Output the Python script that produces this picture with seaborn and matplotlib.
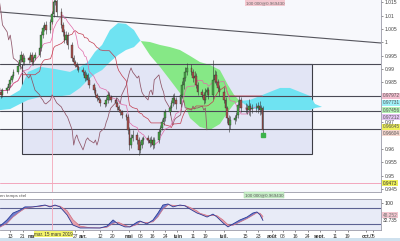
import numpy as np
import pandas as pd
import matplotlib
matplotlib.use("Agg")
import matplotlib.pyplot as plt
import matplotlib.transforms as mtransforms
from matplotlib.patches import Rectangle
import seaborn as sns

# ---------------- data ----------------
# daily candles (trading days 2019-02-05 .. 2019-07-26)
first_open = 0.9840
close = [0.9829, 0.9814, 0.9803, 0.9821,
         0.9829, 0.9844, 0.9859, 0.9874, 0.9889,
         0.9911, 0.9934, 0.9952, 0.9926, 0.9941,
         0.9934, 0.9952, 0.9926, 0.9941, 0.9952,
         0.9979, 1.0027, 1.0054, 1.0065, 1.0046,
         1.0076, 1.0106, 1.0151, 1.0155, 1.0114,
         1.0065, 1.0039, 1.0009, 1.0027, 0.9990,
         0.9941, 0.9926, 0.9915, 0.9908, 0.9896,
         0.9889, 0.9866, 0.9878, 0.9859, 0.9840,
         0.9821, 0.9803, 0.9791, 0.9784, 0.9773,
         0.9769, 0.9784, 0.9803, 0.9795, 0.9784,
         0.9773, 0.9758, 0.9746, 0.9739, 0.9728,
         0.9720, 0.9672, 0.9615, 0.9642, 0.9653,
         0.9634, 0.9597, 0.9615, 0.9634, 0.9642,
         0.9634, 0.9623, 0.9634, 0.9615, 0.9634,
         0.9664, 0.9679, 0.9701, 0.9716, 0.9739,
         0.9754, 0.9773, 0.9791, 0.9784, 0.9769,
         0.9803, 0.9840, 0.9866, 0.9889, 0.9904,
         0.9889, 0.9866, 0.9874, 0.9840, 0.9814,
         0.9803, 0.9784, 0.9814, 0.9821, 0.9803,
         0.9859, 0.9878, 0.9851, 0.9829, 0.9814,
         0.9784, 0.9754, 0.9716, 0.9690, 0.9709,
         0.9716, 0.9728, 0.9765, 0.9784, 0.9754,
         0.9754, 0.9746, 0.9761, 0.9750, 0.9754,
         0.9754, 0.9761, 0.9746, 0.9754, 0.9672]
upper_wick_pips = [8, 6, 10, 8,
                   6, 8, 10, 8, 12,
                   10, 8, 14, 8, 10,
                   8, 10, 12, 8, 10,
                   12, 15, 10, 12, 14,
                   10, 12, 15, 25, 12,
                   14, 10, 12, 16, 10,
                   10, 12, 8, 10, 8,
                   10, 8, 12, 8, 10,
                   8, 10, 8, 6, 8,
                   8, 12, 15, 10, 8,
                   10, 8, 8, 6, 8,
                   8, 10, 12, 15, 20,
                   10, 12, 15, 10, 8,
                   12, 10, 15, 10, 12,
                   10, 12, 10, 15, 10,
                   12, 10, 15, 20, 10,
                   12, 15, 18, 20, 19,
                   15, 12, 20, 10, 12,
                   10, 12, 15, 12, 10,
                   75, 20, 15, 12, 10,
                   20, 10, 8, 12, 15,
                   10, 12, 20, 15, 12,
                   20, 15, 25, 12, 15,
                   18, 15, 20, 12, 8]
lower_wick_pips = [10, 19, 12, 8,
                   10, 8, 10, 8, 6,
                   8, 10, 8, 12, 10,
                   10, 8, 10, 12, 8,
                   8, 10, 12, 10, 15,
                   10, 8, 12, 10, 15,
                   12, 15, 10, 12, 15,
                   10, 12, 8, 10, 8,
                   10, 12, 8, 10, 12,
                   10, 8, 10, 8, 10,
                   12, 8, 10, 12, 8,
                   8, 10, 8, 10, 12,
                   10, 15, 20, 12, 10,
                   15, 19, 12, 10, 15,
                   10, 15, 10, 15, 10,
                   12, 10, 8, 10, 12,
                   10, 12, 10, 15, 20,
                   12, 10, 15, 12, 10,
                   10, 15, 12, 10, 12,
                   12, 15, 10, 12, 15,
                   15, 12, 10, 12, 15,
                   12, 15, 20, 26, 15,
                   15, 12, 10, 12, 15,
                   20, 15, 18, 25, 15,
                   15, 20, 18, 15, 10]

# Ichimoku cloud (x = day of year 2019, 0 = 1 Jan)
cloud_day = [36.4, 42.9, 49.3, 54.5, 62.2, 71.9, 81.6, 88.1, 93.2, 97.7, 102.3, 107.4,
             112.6, 117.7, 122.9, 126.8, 133.2, 139.7, 146.2, 152.6, 159.1, 165.5, 172.0,
             178.4, 183.6, 187.5, 191.3, 197.8, 204.3, 210.7, 217.2, 223.6, 230.1, 236.6,
             239.8, 244.3]
span_a = [0.9746, 0.9750, 0.9769, 0.9784, 0.9795, 0.9795, 0.9803, 0.9829, 0.9859, 0.9881,
          0.9896, 0.9926, 0.9952, 0.9971, 0.9982, 1.0005, 1.0001, 0.9990, 0.9982, 0.9971,
          0.9949, 0.9926, 0.9915, 0.9896, 0.9840, 0.9803, 0.9780, 0.9754, 0.9746, 0.9746,
          0.9746, 0.9746, 0.9746, 0.9746, 0.9754, 0.9758]
span_b = [0.9795, 0.9799, 0.9821, 0.9889, 0.9908, 0.9900, 0.9889, 0.9908, 0.9926, 0.9964,
          0.9990, 1.0046, 1.0072, 1.0069, 1.0046, 1.0009, 0.9952, 0.9908, 0.9859, 0.9810,
          0.9716, 0.9683, 0.9672, 0.9694, 0.9739, 0.9769, 0.9780, 0.9784, 0.9799, 0.9814,
          0.9829, 0.9829, 0.9814, 0.9799, 0.9769, 0.9758]

# stochastic oscillator
stoch_day = [36.4, 40.9, 44.8, 49.3, 52.5, 57.7, 62.2, 65.5, 68.7, 71.9, 75.1, 79.7, 83.5,
             88.1, 94.5, 101.0, 105.5, 109.4, 112.6, 117.1, 120.3, 124.9, 126.8, 131.3,
             135.2, 138.4, 141.6, 144.9, 148.1, 152.6, 155.8, 159.1, 163.6, 165.5, 170.1,
             173.9, 176.5, 180.4, 183.6, 186.8, 191.3, 195.9, 199.7, 202.3, 204.3, 206.2]
stoch_k = [12, 35, 61, 72, 84, 84, 88, 91, 84, 91, 84, 54, 16, 5, 5, 5, 12, 35, 20, 9, 9, 27,
           31, 20, 35, 61, 91, 95, 84, 91, 88, 76, 61, 57, 46, 57, 46, 24, 9, 20, 35, 46, 61,
           65, 54, 33]
stoch_d = [8, 22, 46, 66, 78, 84, 86, 89, 87, 88, 87, 70, 36, 12, 6, 5, 8, 22, 27, 15, 9, 18,
           28, 25, 28, 47, 75, 92, 90, 88, 89, 82, 69, 60, 52, 52, 51, 35, 17, 15, 27, 40, 53,
           62, 60, 48]

# drawn objects
trend_day = [36.4, 282.4]
trend_price = [1.01135, 0.99974]
level_lines = [0.99187, 0.97989, 0.97427, 0.96753]
box_day = [50.6, 237.8]
box_price = [0.95816, 0.99187]
alert_level = 0.9473
cursor_day = 70
order_day, order_price = 206.2, 0.9653

tick_dates = ["2019-02-13", "2019-02-21", "2019-03-01", "2019-03-27", "2019-04-01",
              "2019-04-12", "2019-04-20", "2019-05-01", "2019-05-08", "2019-05-16",
              "2019-05-24", "2019-06-01", "2019-06-11", "2019-06-19", "2019-07-01",
              "2019-07-15", "2019-07-23", "2019-08-01", "2019-08-08", "2019-08-16",
              "2019-08-24", "2019-09-01", "2019-09-11", "2019-09-19", "2019-10-01",
              "2019-10-05"]
tick_labels = ["13", "21", "ma", "27", "avr.", "12", "20", "mai", "08", "16", "24", "juin",
               "11", "19", "juil.", "15", "23", "août", "08", "16", "24", "sept.", "11", "19",
               "oct.", "05"]
month_labels = {"ma", "avr.", "mai", "juin", "juil.", "août", "sept.", "oct."}

price_ticks = [1.015, 1.01, 1.005, 1.0, 0.995, 0.99, 0.985, 0.97, 0.96, 0.955, 0.95, 0.945]
price_tick_labels = ["1.015", "1.01", "1.005", "1", "0.995", "0.99", "0.985", "0.97", "0.96",
                     "0.955", "0.95", "0.945"]
right_labels = [("0.97972", 0.9799, "#f3bfd0"), ("0.97731", 0.9773, "#9ff0f7"),
                ("0.97456", 0.9746, "#b5f0b5"), ("0.97212", 0.9720, "#e3c4f2"),
                ("0.96645", 0.9683, "#eef05a"), ("0.96604", 0.9660, "#f6d7cf")]

# ---------------- figure ----------------
sns.set_theme(style="white")
plt.rcParams['font.family'] = ['Liberation Sans', 'DejaVu Sans']

W, H = 400, 241
fig = plt.figure(figsize=(4, 2.41), dpi=100)
fig.patch.set_facecolor("white")


def rect(top, bottom, left=0, right=381):
    return [left / W, 1 - bottom / H, (right - left) / W, (bottom - top) / H]


ax = fig.add_axes(rect(0, 192))
ax2 = fig.add_axes(rect(199, 230), sharex=ax)
ax.set_facecolor("#f7f8fc")
ax2.set_facecolor("#e8ebf7")

# candles
days = pd.bdate_range("2019-02-05", "2019-07-26").dayofyear.values - 1
c = np.array(close)
o = np.concatenate([[first_open], c[:-1]])
hi = np.maximum(o, c) + np.array(upper_wick_pips) / 1e4
lo = np.minimum(o, c) - np.array(lower_wick_pips) / 1e4
up = c >= o
body = np.where(np.abs(c - o) < 0.00015, np.where(up, 0.00015, -0.00015), c - o)

# box
ax.add_patch(Rectangle((box_day[0], box_price[0]), box_day[1] - box_day[0],
                       box_price[1] - box_price[0], facecolor="#e2e5f5",
                       edgecolor="#3d3d45", linewidth=0.8, zorder=1))

# cloud
cd = np.array(cloud_day)
sa = np.array(span_a)
sb = np.array(span_b)
ax.fill_between(cd, sa, sb, where=sa >= sb, interpolate=True, color="#86e886",
                linewidth=0, zorder=2)
ax.fill_between(cd, sa, sb, where=sa < sb, interpolate=True, color="#6fe3f2",
                linewidth=0, zorder=2)

# level lines
for lv in level_lines:
    ax.axhline(lv, color="#4a4a55", linewidth=0.8, zorder=3)
ax.axhline(alert_level, color="#f2a6bd", linewidth=0.7, zorder=3)
ax.plot(trend_day, trend_price, color="#55555d", linewidth=0.8, zorder=3)
ax.axvline(cursor_day, color="#f4a7b9", linewidth=0.6, zorder=3)
ax2.axvline(cursor_day, color="#f4a7b9", linewidth=0.6, zorder=3)

# ichimoku lines computed from candles
dfc = pd.DataFrame({"day": days, "close": c, "high": hi, "low": lo})
dfc["tenkan"] = (dfc["high"].rolling(9, min_periods=1).max() +
                 dfc["low"].rolling(9, min_periods=1).min()) / 2
dfc["kijun"] = (dfc["high"].rolling(26, min_periods=1).max() +
                dfc["low"].rolling(26, min_periods=1).min()) / 2
chikou = pd.DataFrame({"day": days[:-26], "price": c[26:]})
sns.lineplot(data=chikou, x="day", y="price", ax=ax, color="#8e5467", linewidth=0.55,
             legend=False, zorder=4)
sns.lineplot(data=dfc, x="day", y="kijun", ax=ax, color="#c23b4e", linewidth=0.5,
             legend=False, zorder=4)
sns.lineplot(data=dfc, x="day", y="tenkan", ax=ax, color="#e06aa8", linewidth=0.5,
             legend=False, zorder=4)

# candles drawn
ax.vlines(days, lo, hi, color="#333333", linewidth=0.4, zorder=5)
ax.bar(days, body, bottom=o, width=1.0, color=np.where(up, "#47a447", "#a8504c"),
       edgecolor="#2a2a2a", linewidth=0.25, zorder=6)
ax.plot([order_day], [order_price], "s", color="#3cb34a", markersize=2.6, zorder=7)

# stochastic
sd = np.array(stoch_day)
sk = np.array(stoch_k, dtype=float)
sdd = np.array(stoch_d, dtype=float)
ax2.fill_between(sd, sk, sdd, where=sk >= sdd, interpolate=True, color="#5566c4",
                 alpha=0.8, linewidth=0, zorder=2)
ax2.fill_between(sd, sk, sdd, where=sk < sdd, interpolate=True, color="#e59aa6",
                 alpha=0.9, linewidth=0, zorder=2)
sns.lineplot(x=sd, y=sdd, ax=ax2, color="#d06b7d", linewidth=0.5, legend=False, zorder=3)
sns.lineplot(x=sd, y=sk, ax=ax2, color="#2b3a96", linewidth=0.6, legend=False, zorder=3)
for lv in (80, 20):
    ax2.axhline(lv, color="#5b6192", linewidth=0.8, zorder=1)

# axes limits and ticks
ax.set_xlim(36.4, 282.4)
ax.set_ylim(1.01584 - 192 / 2670, 1.01584)
ax2.set_ylim(-2.6, 113.6)
ax.set_xlabel("")
ax.set_ylabel("")
ax2.set_xlabel("")
ax2.set_ylabel("")

ax.yaxis.tick_right()
ax.set_yticks(price_ticks)
ax.set_yticklabels(price_tick_labels)
ax.tick_params(axis="y", labelsize=3.6, pad=1, length=1.5, width=0.4, colors="#444444",
               right=True, left=False)
ax.tick_params(axis="x", bottom=False, labelbottom=False)

ax2.yaxis.tick_right()
ax2.set_yticks([100])
ax2.set_yticklabels(["100"])
ax2.tick_params(axis="y", labelsize=3.8, pad=1, length=1.5, width=0.4, colors="#333333",
                right=True, left=False)
tick_days = [pd.Timestamp(d).dayofyear - 1 for d in tick_dates]
ax2.set_xticks(tick_days)
ax2.set_xticklabels(tick_labels)
ax2.tick_params(axis="x", labelsize=3.6, pad=1.5, length=1.5, width=0.4, colors="#333333",
                bottom=True)
for lab in ax2.get_xticklabels():
    if lab.get_text() in month_labels:
        lab.set_fontweight("bold")
    if lab.get_text() == "ma":
        lab.set_horizontalalignment("right")

for a in (ax, ax2):
    for s in ("left", "top"):
        a.spines[s].set_visible(False)
    for s in ("right", "bottom"):
        a.spines[s].set_color("#9a9aa8")
        a.spines[s].set_linewidth(0.6)
ax2.spines["top"].set_visible(True)
ax2.spines["top"].set_color("#9a9aa8")
ax2.spines["top"].set_linewidth(0.6)

# right coloured labels
trans = mtransforms.blended_transform_factory(ax.transAxes, ax.transData)
for txt, yv, col in right_labels:
    ax.text(1.004, yv, txt, transform=trans, fontsize=3.4, ha="left", va="center",
            color="#555555", clip_on=False,
            bbox=dict(boxstyle="square,pad=0.15", facecolor=col, edgecolor="none"))
ax.text(1.004, alert_level, "0.9473", transform=trans, fontsize=3.4, ha="left",
        va="center", color="#333333", clip_on=False,
        bbox=dict(boxstyle="square,pad=0.15", facecolor="#eef05a", edgecolor="none"))
trans2 = mtransforms.blended_transform_factory(ax2.transAxes, ax2.transData)
ax2.text(1.004, 53, "48.252", transform=trans2, fontsize=3.4, ha="left", va="center",
         color="#777777", clip_on=False,
         bbox=dict(boxstyle="square,pad=0.15", facecolor="#f3c6cf", edgecolor="none"))
ax2.text(1.004, 33, "32.735", transform=trans2, fontsize=3.4, ha="left", va="center",
         color="#333333", clip_on=False)

# annotations
fig.text(265 / W, 1 - 3 / H, "100 000@0.969430", fontsize=3.2, ha="center", va="center",
         color="#666666",
         bbox=dict(boxstyle="square,pad=0.2", facecolor="#f5c8d0", edgecolor="none"))
fig.text(264 / W, 1 - 195 / H, "100 000@0.969430", fontsize=3.2, ha="center", va="center",
         color="#555555",
         bbox=dict(boxstyle="square,pad=0.2", facecolor="#c9efc9", edgecolor="#9ad09a",
                   linewidth=0.3))
fig.text(0.0, 1 - 195.5 / H, "en temps réel", fontsize=3.2, ha="left", va="center",
         color="#555555")
fig.text(53.5 / W, 1 - 234 / H, "mar. 15 mars 2019", fontsize=3.3, ha="center", va="center",
         color="#333333", zorder=10,
         bbox=dict(boxstyle="square,pad=0.12", facecolor="#f4f46a", edgecolor="none"))
fig.add_artist(Rectangle((0, 0), 1, 3 / H, transform=fig.transFigure,
                         facecolor="#cfe1ee", edgecolor="none"))

fig.savefig("out.png", dpi=100)
